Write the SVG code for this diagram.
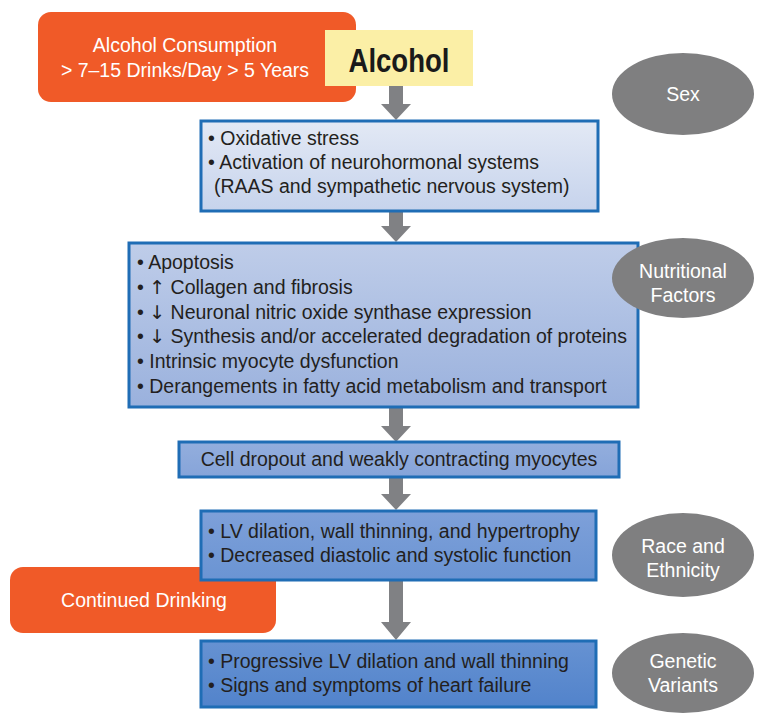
<svg xmlns="http://www.w3.org/2000/svg" width="766" height="726" viewBox="0 0 766 726">
<defs>
<linearGradient id="g2" x1="0" y1="0" x2="0" y2="1"><stop offset="0" stop-color="#E3E9F5"/><stop offset="1" stop-color="#C6D3EC"/></linearGradient>
<linearGradient id="g3" x1="0" y1="0" x2="0" y2="1"><stop offset="0" stop-color="#BFCDE9"/><stop offset="1" stop-color="#9AB1DD"/></linearGradient>
<linearGradient id="g4" x1="0" y1="0" x2="0" y2="1"><stop offset="0" stop-color="#93AEDD"/><stop offset="1" stop-color="#86A4D9"/></linearGradient>
<linearGradient id="g5" x1="0" y1="0" x2="0" y2="1"><stop offset="0" stop-color="#7EA0D9"/><stop offset="1" stop-color="#6A94D3"/></linearGradient>
<linearGradient id="g6" x1="0" y1="0" x2="0" y2="1"><stop offset="0" stop-color="#6692D2"/><stop offset="1" stop-color="#5283CB"/></linearGradient>
<style>
.t{font-family:"Liberation Sans",Arial,sans-serif;font-size:19.5px;fill:#231F20}
.w{font-family:"Liberation Sans",Arial,sans-serif;font-size:19.5px;fill:#FFFFFF}
.ar{font-family:"DejaVu Sans",sans-serif;font-size:19px}
.box{stroke:#1F6DB5;stroke-width:3}
.org{fill:#F05A28}
.ell{fill:#7F7F80}
.arr{fill:#808184}
</style>
</defs>
<rect width="766" height="726" fill="#FFFFFF"/>
<g id="consumption">
<rect class="org" x="38" y="12" width="318" height="90" rx="13"/>
<text class="w" x="185" y="52" text-anchor="middle">Alcohol Consumption</text>
<text class="w" x="185" y="77" text-anchor="middle">&gt; 7–15 Drinks/Day &gt; 5 Years</text>
</g>
<g id="alcohol">
<rect x="325" y="30" width="148" height="56" fill="#FBEFA6"/>
<text x="399" y="72" text-anchor="middle" font-family="Liberation Sans, Arial, sans-serif" font-weight="bold" font-size="30" fill="#1A1A1A" textLength="101" lengthAdjust="spacingAndGlyphs" transform="translate(0,-7.2) scale(1,1.1)">Alcohol</text>
</g>
<g id="connectors">
<polygon class="arr" points="389,86 403,86 403,104 411,104 396,120 381,104 389,104"/>
<polygon class="arr" points="389,211 403,211 403,226 411,226 396,242 381,226 389,226"/>
<polygon class="arr" points="389,407 403,407 403,426 411,426 396,442 381,426 389,426"/>
<polygon class="arr" points="389,477 403,477 403,494 411,494 396,510 381,494 389,494"/>
<polygon class="arr" points="389,580 403,580 403,622 411,622 396,640 381,622 389,622"/>
</g>
<g id="stress">
<rect class="box" x="201" y="121" width="397" height="90" fill="url(#g2)"/>
<text class="t" x="208" y="145">• Oxidative stress</text>
<text class="t" x="208" y="169">• Activation of neurohormonal systems</text>
<text class="t" x="214" y="193">(RAAS and sympathetic nervous system)</text>
</g>
<g id="mechanisms">
<rect class="box" x="129" y="243" width="509" height="164" fill="url(#g3)"/>
<text class="t" x="137" y="269">• Apoptosis</text>
<text class="t" x="137" y="294">• <tspan class="ar">↑</tspan> Collagen and fibrosis</text>
<text class="t" x="137" y="319">• <tspan class="ar">↓</tspan> Neuronal nitric oxide synthase expression</text>
<text class="t" x="137" y="343">• <tspan class="ar">↓</tspan> Synthesis and/or accelerated degradation of proteins</text>
<text class="t" x="137" y="368">• Intrinsic myocyte dysfunction</text>
<text class="t" x="137" y="393">• Derangements in fatty acid metabolism and transport</text>
</g>
<g id="nutritional">
<ellipse class="ell" cx="683" cy="278" rx="71" ry="40"/>
<text class="w" x="683" y="278" text-anchor="middle">Nutritional</text>
<text class="w" x="683" y="302" text-anchor="middle">Factors</text>
</g>
<g id="sex">
<ellipse class="ell" cx="683" cy="94" rx="71" ry="41"/>
<text class="w" x="683" y="101" text-anchor="middle">Sex</text>
</g>
<g id="dropout">
<rect class="box" x="179" y="442" width="440" height="35" fill="url(#g4)"/>
<text class="t" x="399" y="466" text-anchor="middle">Cell dropout and weakly contracting myocytes</text>
</g>
<g id="continued">
<rect class="org" x="10" y="567" width="266" height="66" rx="13"/>
<text class="w" x="144" y="607" text-anchor="middle">Continued Drinking</text>
</g>
<g id="lv">
<rect class="box" x="201" y="511" width="395" height="69" fill="url(#g5)"/>
<text class="t" x="208" y="538">• LV dilation, wall thinning, and hypertrophy</text>
<text class="t" x="208" y="562">• Decreased diastolic and systolic function</text>
</g>
<g id="race">
<ellipse class="ell" cx="683" cy="555" rx="71" ry="42"/>
<text class="w" x="683" y="553" text-anchor="middle">Race and</text>
<text class="w" x="683" y="577" text-anchor="middle">Ethnicity</text>
</g>
<g id="hf">
<rect class="box" x="201" y="641" width="395" height="66" fill="url(#g6)"/>
<text class="t" x="208" y="668">• Progressive LV dilation and wall thinning</text>
<text class="t" x="208" y="692">• Signs and symptoms of heart failure</text>
</g>
<g id="genetic">
<ellipse class="ell" cx="683" cy="673" rx="71" ry="40"/>
<text class="w" x="683" y="668" text-anchor="middle">Genetic</text>
<text class="w" x="683" y="692" text-anchor="middle">Variants</text>
</g>
</svg>
